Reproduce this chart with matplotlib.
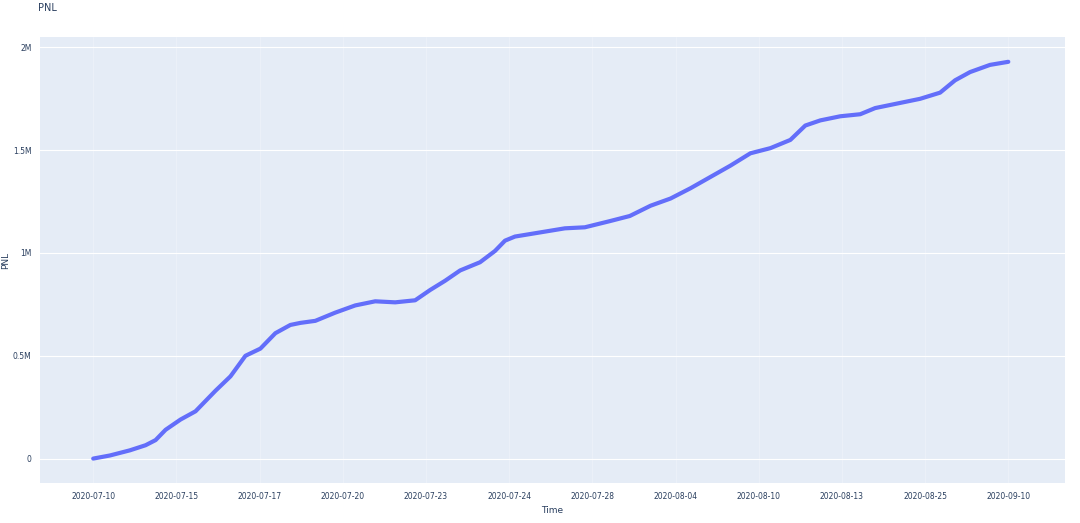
import matplotlib
matplotlib.use("Agg")
import matplotlib.pyplot as plt
from matplotlib.ticker import FuncFormatter

tick_labels = ["2020-07-10","2020-07-15","2020-07-17","2020-07-20","2020-07-23","2020-07-24",
               "2020-07-28","2020-08-04","2020-08-10","2020-08-13","2020-08-25","2020-09-10"]
x_pos = [0.0,0.20,0.44,0.63,0.75,0.87,1.05,1.23,1.35,1.47,1.65,1.83,2.01,2.19,2.37,2.49,2.67,2.91,
         3.15,3.39,3.63,3.87,4.05,4.23,4.41,4.65,4.83,4.95,5.07,5.37,5.67,5.91,6.21,6.45,6.70,6.94,
         7.18,7.42,7.66,7.90,8.14,8.38,8.56,8.74,8.98,9.22,9.40,9.70,9.94,10.18,10.36,10.54,10.78,11.0]
pnl_m = [0,0.015,0.04,0.065,0.09,0.14,0.19,0.23,0.28,0.33,0.40,0.50,0.535,0.61,0.65,0.66,0.67,0.71,
         0.745,0.765,0.76,0.77,0.82,0.865,0.915,0.955,1.01,1.06,1.08,1.10,1.12,1.125,1.155,1.18,1.23,
         1.265,1.315,1.37,1.425,1.485,1.51,1.55,1.62,1.645,1.665,1.675,1.705,1.73,1.75,1.78,1.84,1.88,
         1.915,1.93]
pnl = [v*1e6 for v in pnl_m]

fig = plt.figure(figsize=(10.8,5.23), dpi=100)
ax = fig.add_axes([0.037,0.076,0.949,0.853])
ax.set_facecolor("#E5ECF6")
ax.plot(x_pos, pnl, color="#636EFA", lw=3, solid_capstyle="round")
ax.set_xlim(-0.64, 11.68)
ax.set_ylim(-0.12e6, 2.05e6)
ax.set_xticks(range(len(tick_labels)))
ax.set_xticklabels(tick_labels)
ax.set_yticks([0,0.5e6,1e6,1.5e6,2e6])
ax.yaxis.set_major_formatter(FuncFormatter(lambda v,p: "0" if v==0 else f"{v/1e6:g}M"))
ax.grid(True, axis="y", color="white", lw=0.8)
ax.grid(True, axis="x", color="#EEF2F9", lw=0.5)
ax.set_axisbelow(True)
for s in ax.spines.values():
    s.set_visible(False)
ax.tick_params(length=0, labelsize=5.5, colors="#2a3f5f", pad=6)
ax.set_xlabel("Time", fontsize=6.5, color="#2a3f5f", labelpad=4)
ax.set_ylabel("PNL", fontsize=6.5, color="#2a3f5f", labelpad=2)
fig.text(0.035, 0.985, "PNL", fontsize=7, color="#2a3f5f", va="center")
fig.savefig("out.png")
